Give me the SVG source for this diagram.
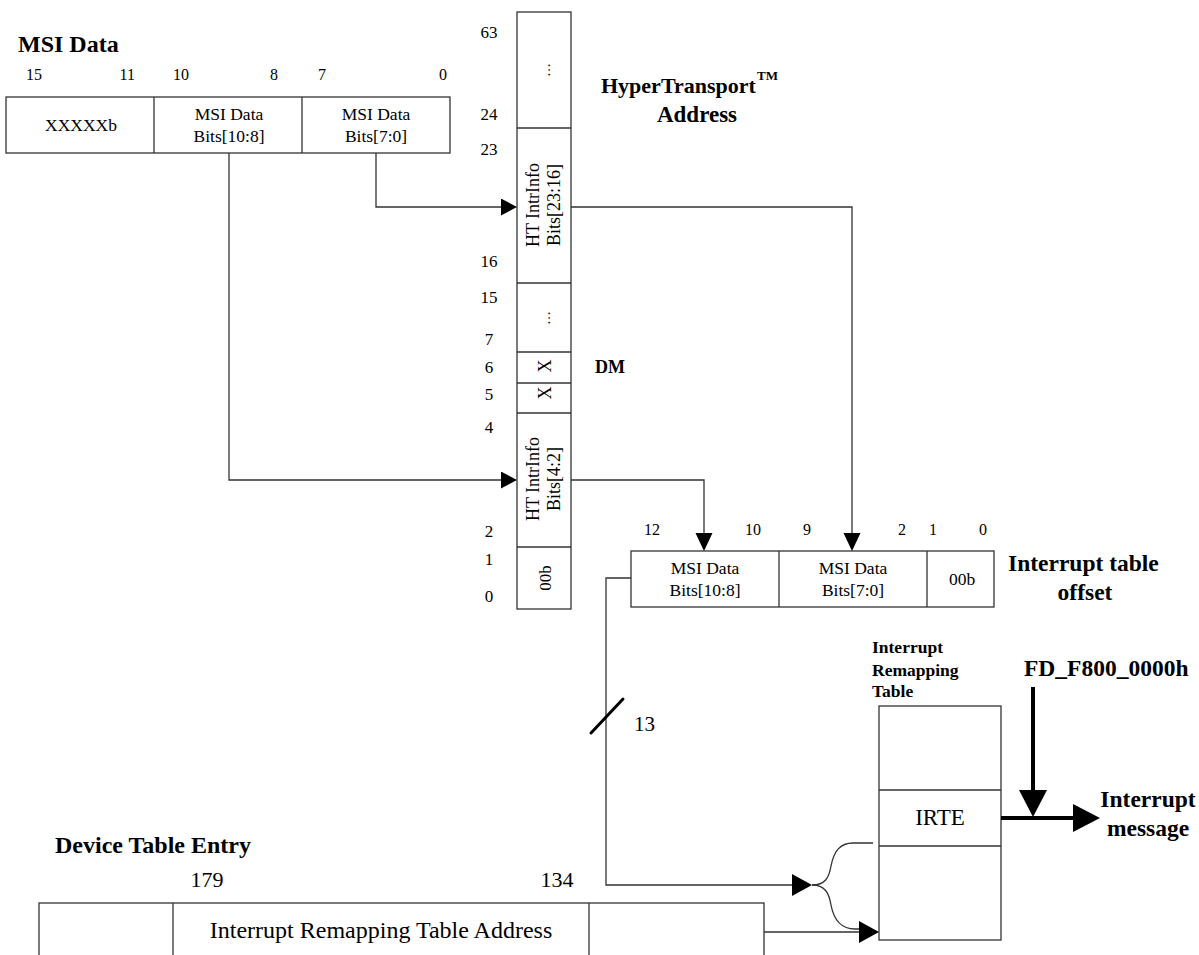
<svg xmlns="http://www.w3.org/2000/svg" width="1199" height="955" viewBox="0 0 1199 955">
<style>
text{font-family:"Liberation Serif","Times New Roman",serif;fill:#000}
.b{font-weight:bold}
.box{fill:#fff;stroke:#333;stroke-width:1.3}
.div{stroke:#333;stroke-width:1.3}
.ln{fill:none;stroke:#333;stroke-width:1.3}
.thick{fill:none;stroke:#000;stroke-width:4}
.m{text-anchor:middle}
.e{text-anchor:end}
.bit{font-size:16px}
.hb{font-size:17px;text-anchor:middle}
.cell{font-size:17.5px;text-anchor:middle}
.ttl{font-size:24px;font-weight:bold}
</style>
<defs>
<marker id="a1" markerUnits="userSpaceOnUse" markerWidth="17" markerHeight="18" refX="0" refY="8.5" orient="auto"><path d="M0,0 L16,8.5 L0,17 z" fill="#000"/></marker>
<marker id="a1v" markerUnits="userSpaceOnUse" markerWidth="19" markerHeight="18" refX="0" refY="8.5" orient="auto"><path d="M0,0 L18,8.5 L0,17 z" fill="#000"/></marker>
<marker id="a2" markerUnits="userSpaceOnUse" markerWidth="21" markerHeight="22" refX="0" refY="11" orient="auto"><path d="M0,0 L20,11 L0,22 z" fill="#000"/></marker>
<marker id="a3" markerUnits="userSpaceOnUse" markerWidth="28" markerHeight="28" refX="0" refY="14" orient="auto"><path d="M0,0 L27,14 L0,28 z" fill="#000"/></marker>
</defs>

<g id="msi-data">
<text x="18" y="52" class="ttl">MSI Data</text>
<text x="34" y="80" class="bit m">15</text>
<text x="135" y="80" class="bit e">11</text>
<text x="173" y="80" class="bit">10</text>
<text x="278" y="80" class="bit e">8</text>
<text x="318" y="80" class="bit">7</text>
<text x="447" y="80" class="bit e">0</text>
<rect x="6" y="97" width="444" height="56" class="box"/>
<line x1="154" y1="97" x2="154" y2="153" class="div"/>
<line x1="302" y1="97" x2="302" y2="153" class="div"/>
<text x="81" y="131" class="cell">XXXXXb</text>
<text x="229" y="120" class="cell">MSI Data</text>
<text x="229" y="142" class="cell">Bits[10:8]</text>
<text x="376" y="120" class="cell">MSI Data</text>
<text x="376" y="142" class="cell">Bits[7:0]</text>
</g>

<g id="ht-address">
<text x="601" y="93" class="b" style="font-size:22px">HyperTransport</text>
<text x="757" y="80" class="b" style="font-size:13px">TM</text>
<text x="697" y="122" class="b m" style="font-size:23px">Address</text>
<rect x="517" y="12" width="54" height="597" class="box"/>
<line x1="517" y1="128" x2="571" y2="128" class="div"/>
<line x1="517" y1="283" x2="571" y2="283" class="div"/>
<line x1="517" y1="352" x2="571" y2="352" class="div"/>
<line x1="517" y1="383" x2="571" y2="383" class="div"/>
<line x1="517" y1="413" x2="571" y2="413" class="div"/>
<line x1="517" y1="547" x2="571" y2="547" class="div"/>
<text class="hb" x="489" y="38">63</text>
<text class="hb" x="489" y="120">24</text>
<text class="hb" x="489" y="155">23</text>
<text class="hb" x="489" y="267">16</text>
<text class="hb" x="489" y="303">15</text>
<text class="hb" x="489" y="345">7</text>
<text class="hb" x="489" y="373">6</text>
<text class="hb" x="489" y="400">5</text>
<text class="hb" x="489" y="433">4</text>
<text class="hb" x="489" y="537">2</text>
<text class="hb" x="489" y="565">1</text>
<text class="hb" x="489" y="602">0</text>
<text class="m" style="font-size:14px" transform="translate(550,70) rotate(-90)">…</text>
<text class="m" style="font-size:18px" transform="translate(539,205) rotate(-90)">HT IntrInfo</text>
<text class="m" style="font-size:18px" transform="translate(560,205) rotate(-90)">Bits[23:16]</text>
<text class="m" style="font-size:14px" transform="translate(550,318) rotate(-90)">…</text>
<text class="m" style="font-size:18px" transform="translate(551,366) rotate(-90)">X</text>
<text class="m" style="font-size:18px" transform="translate(551,393) rotate(-90)">X</text>
<text class="m" style="font-size:18px" transform="translate(539,479) rotate(-90)">HT IntrInfo</text>
<text class="m" style="font-size:18px" transform="translate(560,479) rotate(-90)">Bits[4:2]</text>
<text class="m" style="font-size:17px" transform="translate(551,578) rotate(-90)">00b</text>
<text x="595" y="373" class="b" style="font-size:18px">DM</text>
</g>

<g id="interrupt-table-offset">
<text x="652" y="535" class="bit m">12</text>
<text x="753" y="535" class="bit m">10</text>
<text x="807" y="535" class="bit m">9</text>
<text x="902" y="535" class="bit m">2</text>
<text x="933" y="535" class="bit m">1</text>
<text x="983" y="535" class="bit m">0</text>
<rect x="631" y="551" width="363" height="56" class="box"/>
<line x1="779" y1="551" x2="779" y2="607" class="div"/>
<line x1="927" y1="551" x2="927" y2="607" class="div"/>
<text x="705" y="574" class="cell">MSI Data</text>
<text x="705" y="596" class="cell">Bits[10:8]</text>
<text x="853" y="574" class="cell">MSI Data</text>
<text x="853" y="596" class="cell">Bits[7:0]</text>
<text x="962" y="585" class="cell">00b</text>
<text x="1008" y="571" class="b" style="font-size:23.5px">Interrupt table</text>
<text x="1085" y="600" class="b m" style="font-size:23.5px">offset</text>
</g>

<g id="interrupt-remapping-table">
<text x="872" y="653" class="b" style="font-size:17.5px">Interrupt</text>
<text x="872" y="676" class="b" style="font-size:17.5px">Remapping</text>
<text x="872" y="697" class="b" style="font-size:17.5px">Table</text>
<rect x="879" y="706" width="122" height="234" class="box"/>
<line x1="879" y1="790" x2="1001" y2="790" class="div"/>
<line x1="879" y1="846" x2="1001" y2="846" class="div"/>
<text x="940" y="825" class="m" style="font-size:23px">IRTE</text>
</g>

<g id="base-address">
<text x="1024" y="676" class="b" style="font-size:23.5px">FD_F800_0000h</text>
</g>

<g id="interrupt-message">
<text x="1148" y="807" class="b m" style="font-size:23.5px">Interrupt</text>
<text x="1148" y="836" class="b m" style="font-size:23.5px">message</text>
</g>

<g id="device-table-entry">
<text x="55" y="853" class="ttl">Device Table Entry</text>
<text x="207" y="887" class="m" style="font-size:22px">179</text>
<text x="557" y="887" class="m" style="font-size:22px">134</text>
<rect x="39" y="903" width="725" height="80" class="box"/>
<line x1="173" y1="903" x2="173" y2="983" class="div"/>
<line x1="589" y1="903" x2="589" y2="983" class="div"/>
<text x="381" y="938" class="m" style="font-size:24px">Interrupt Remapping Table Address</text>
</g>

<g id="connectors">
<path d="M229,153 V480 H501" class="ln" marker-end="url(#a1)"/>
<path d="M376,153 V207 H501" class="ln" marker-end="url(#a1)"/>
<path d="M571,207 H852 V533" class="ln" marker-end="url(#a1v)"/>
<path d="M571,480 H704 V533" class="ln" marker-end="url(#a1v)"/>
<path d="M631,578 H606 V885 H792" class="ln" marker-end="url(#a2)"/>
<path d="M812,885 C825,885 829,878 831,866 C834,851 840,843 853,843 H873" class="ln"/>
<path d="M812,885 C825,885 829,893 831,905 C834,921 842,929 855,929 H860" class="ln"/>
<path d="M764,932 H859" class="ln" marker-end="url(#a2)"/>
<line x1="591" y1="733" x2="623" y2="699" stroke="#000" stroke-width="3" stroke-linecap="round"/>
<text x="634" y="731" style="font-size:21px">13</text>
<path d="M1033,687 V790" class="thick" marker-end="url(#a3)"/>
<path d="M1001,818 H1073" class="thick" marker-end="url(#a3)"/>
</g>
</svg>
